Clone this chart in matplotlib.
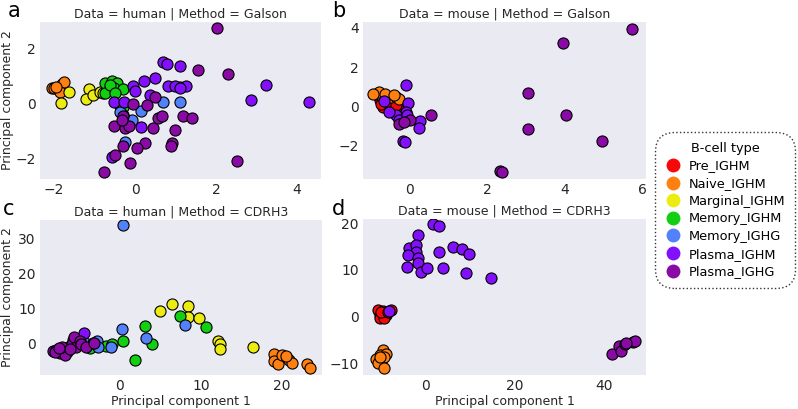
"""PCA scatter panels of B-cell repertoires, four datasets."""

import matplotlib
matplotlib.use("Agg")
import matplotlib.pyplot as plt
from matplotlib.lines import Line2D

CELL_TYPES = ["Pre_IGHM", "Naive_IGHM", "Marginal_IGHM", "Memory_IGHM",
              "Memory_IGHG", "Plasma_IGHM", "Plasma_IGHG"]
COLORS = ["#f80808", "#ff8010", "#ecec12", "#12cf12", "#5281fa", "#8310fb", "#8a0aa6"]

# panel a: human / Galson
human_galson = {
    "Naive_IGHM": [(-2.05, 0.55), (-2.0, 0.55), (-1.9, 0.5), (-1.8, 0.7), (-1.75, 0.78),
                   (-1.85, 0.42), (-1.95, 0.6)],
    "Marginal_IGHM": [(-1.63, 0.4), (-1.84, 0.02), (-1.13, 0.5), (-1.21, 0.15), (-1.03, 0.3),
                      (-0.86, 0.42), (-0.78, 0.36)],
    "Memory_IGHM": [(-0.74, 0.73), (-0.58, 0.79), (-0.45, 0.75), (-0.53, 0.55), (-0.74, 0.39),
                    (-0.29, 0.5), (-0.37, -0.1), (-0.29, -0.12), (-0.62, 0.67), (-0.49, 0.36)],
    "Memory_IGHG": [(1.11, 0.06), (0.68, 0.06), (0.16, -0.28), (-0.08, -0.6), (-0.29, -0.42),
                    (-0.25, -1.39), (-0.37, -0.3), (1.11, 0.58), (-0.25, -0.85)],
    "Plasma_IGHM": [(0.68, 1.49), (0.8, 1.43), (1.11, 1.36), (0.21, 0.82), (0.49, 0.91),
                    (-0.04, 0.63), (0.0, 0.46), (0.82, 0.63), (0.99, 0.63), (1.25, 0.63),
                    (1.11, 0.55), (-0.53, 0.06), (-0.27, 0.06), (2.88, 0.1), (3.23, 0.65),
                    (4.3, 0.06), (0.16, -0.85), (0.37, 0.3), (-0.58, -1.94)],
    "Plasma_IGHG": [(2.04, 2.73), (1.56, 1.19), (2.29, 1.07), (-0.04, -0.02), (0.3, -0.06),
                    (0.49, 0.24), (0.58, -0.55), (0.67, -0.46), (1.19, -0.46), (1.42, -0.55),
                    (-0.29, -0.46), (-0.53, -0.82), (-0.25, -0.91), (-0.16, -0.82), (0.45, -0.91),
                    (0.99, -0.97), (0.25, -1.43), (0.04, -1.64), (-0.29, -1.54), (-0.49, -1.88),
                    (-0.12, -2.18), (-0.77, -2.51), (0.91, -1.45), (0.89, -1.55), (2.53, -2.08),
                    (-0.33, -0.6)],
}

# panel b: mouse / Galson
mouse_galson = {
    "Pre_IGHM": [(-0.77, 0.3), (-0.69, -0.03), (-0.52, 0.0), (-0.39, -0.12), (-0.26, -0.2),
                 (-0.73, 0.14), (-0.56, 0.22), (-0.34, 0.05)],
    "Naive_IGHM": [(-0.86, 0.64), (-0.73, 0.56), (-0.6, 0.47), (-0.47, 0.47), (-0.34, 0.47),
                   (-0.27, 0.39), (-0.79, 0.73), (-0.94, 0.61), (-0.64, 0.64), (-0.41, 0.56)],
    "Plasma_IGHG": [(5.73, 3.95), (3.95, 3.22), (3.06, 0.69), (4.03, -0.42), (3.06, -1.15),
                    (4.96, -1.78), (2.34, -3.27), (2.39, -3.36), (0.56, -0.46),
                    (-0.26, -0.88), (0.0, -0.71), (-0.13, -0.8)],
    "Plasma_IGHM": [(-0.1, 1.07), (-0.04, 0.17), (0.26, -0.76), (0.24, -1.1), (-0.17, -1.76),
                    (-0.12, -1.81), (-0.67, 0.25), (-0.09, -0.29), (-0.09, -0.63), (-0.36, -0.46),
                    (-0.52, -0.29), (-0.26, -0.71), (-0.07, -0.46)],
}

# panel c: human / CDRH3
human_cdrh3 = {
    "Naive_IGHM": [(19.0, -2.9), (19.0, -4.8), (19.5, -5.7), (20.0, -3.1), (20.7, -4.1),
                   (20.9, -4.6), (21.3, -5.5), (23.1, -5.8), (23.5, -7.0), (20.5, -3.6)],
    "Marginal_IGHM": [(4.9, 9.5), (6.4, 11.3), (8.4, 10.9), (8.4, 7.8), (9.8, 7.3),
                      (12.1, 0.9), (12.4, -0.1), (12.4, -1.5), (16.4, -0.8)],
    "Memory_IGHM": [(3.1, 5.0), (4.0, -0.1), (1.8, -4.6), (0.4, 0.7), (7.4, 8.0),
                    (10.6, 4.7), (-1.7, -0.6), (-1.0, 0.0), (-3.7, -1.2)],
    "Memory_IGHG": [(0.4, 34.0), (0.2, 4.2), (3.2, 1.8), (8.0, 5.4), (-2.9, 0.7),
                    (-2.7, -0.8), (-1.1, -0.8), (-4.3, 0.2)],
    "Plasma_IGHM": [(-4.5, 3.2), (-5.8, 1.1), (-3.3, 0.2)],
    "Plasma_IGHG": [(-8.3, -2.0), (-7.9, -1.7), (-7.4, -2.7), (-7.0, -1.5), (-6.6, -2.2),
                    (-6.4, -0.8), (-6.0, -0.1), (-5.7, 1.9), (-5.4, -0.8), (-5.0, 0.7),
                    (-4.8, -0.1), (-4.2, -1.0), (-3.2, 0.2), (-6.8, -3.2), (-7.2, -0.8),
                    (-6.2, -1.5), (-8.1, -2.2), (-7.6, -1.2)],
}

# panel d: mouse / CDRH3
mouse_cdrh3 = {
    "Pre_IGHM": [(-10.7, 1.4), (-10.1, 0.4), (-9.6, 1.1), (-8.8, 0.4), (-7.7, 1.4),
                 (-10.3, -0.4), (-9.2, -0.4), (-9.9, 0.9), (-8.4, 0.9)],
    "Naive_IGHM": [(-9.6, -7.1), (-10.1, -8.2), (-8.8, -8.0), (-11.0, -9.1), (-9.9, -9.6),
                   (-9.2, -8.7), (-10.6, -10.0), (-9.4, -11.1), (-10.3, -8.6)],
    "Plasma_IGHM": [(1.6, 19.8), (3.0, 19.5), (-1.7, 17.5), (-3.6, 14.6), (-2.1, 15.4),
                    (-2.1, 13.9), (-4.0, 13.2), (-1.7, 12.5), (3.0, 13.9), (6.1, 14.8),
                    (8.2, 14.4), (9.7, 13.4), (-4.1, 10.7), (-1.7, 11.4), (-1.1, 9.6),
                    (0.3, 10.5), (4.0, 10.5), (9.1, 9.3), (14.7, 8.2), (-8.2, 1.2)],
    "Plasma_IGHG": [(41.8, -8.1), (43.2, -6.3), (43.8, -7.3), (44.5, -5.9), (46.4, -5.4),
                    (46.8, -5.2), (44.9, -5.6)],
}

PANELS = [
    ("a", "Data = human | Method = Galson", human_galson, (-2.35, 4.6), (-2.75, 2.95)),
    ("b", "Data = mouse | Method = Galson", mouse_galson, (-1.2, 6.1), (-3.7, 4.3)),
    ("c", "Data = human | Method = CDRH3", human_cdrh3, (-9.9, 25.0), (-8.9, 35.4)),
    ("d", "Data = mouse | Method = CDRH3", mouse_cdrh3, (-14.0, 49.3), (-12.5, 20.9)),
]

# axes boxes in pixels: left, top, right, bottom
BOXES = [(40, 22, 321, 179), (363, 22, 646, 179), (40, 220, 322, 375), (363, 219, 646, 375)]
# panel letter anchors (x, baseline y) in pixels
LETTERS = [(8, 17), (332, 17), (3, 215), (332, 215)]

W, H = 798, 409
fig = plt.figure(figsize=(W / 100, H / 100), dpi=100)
plt.rcParams["font.family"] = "DejaVu Sans"

for (letter, title, data, xlim, ylim), (l, t, r, b), (lx, ly) in zip(PANELS, BOXES, LETTERS):
    ax = fig.add_axes([l / W, 1 - b / H, (r - l) / W, (b - t) / H])
    ax.set_facecolor("#EAEAF2")
    for spine in ax.spines.values():
        spine.set_visible(False)
    for name, color in zip(CELL_TYPES, COLORS):
        pts = data.get(name, [])
        if not pts:
            continue
        xs = [p[0] for p in pts]
        ys = [p[1] for p in pts]
        ax.scatter(xs, ys, s=64, c=color, edgecolors="black", linewidths=0.8, zorder=3)
    ax.set_xlim(xlim)
    ax.set_ylim(ylim)
    ax.tick_params(length=0, labelsize=10, labelcolor="#262626", pad=3)
    ax.set_title(title, fontsize=9, color="#262626", pad=3)
    if letter in "ac":
        ax.set_ylabel("Principal component 2", fontsize=9, color="#262626")
        ax.yaxis.set_label_coords(-26 / (r - l), 0.5)
    if letter in "cd":
        ax.set_xlabel("Principal component 1", fontsize=9, color="#262626", labelpad=1)
    fig.text(lx / W, 1 - ly / H, letter, fontsize=15, va="baseline", ha="left")

handles = [Line2D([], [], marker="o", linestyle="", markersize=10,
                  markerfacecolor=c, markeredgewidth=0) for c in COLORS]
leg = fig.legend(handles, CELL_TYPES, title="B-cell type", loc="center",
                 bbox_to_anchor=(725 / W, 1 - 210 / H), fontsize=9.3, title_fontsize=9.3,
                 frameon=True, fancybox=True, handletextpad=0.5, labelspacing=0.36,
                 borderpad=0.5, handlelength=1.3)
frame = leg.get_frame()
frame.set_edgecolor("black")
frame.set_linestyle(":")
frame.set_linewidth(1.0)
frame.set_facecolor("white")
frame.set_boxstyle("round,pad=0.25,rounding_size=1.5")

fig.savefig("out.png", dpi=100)
